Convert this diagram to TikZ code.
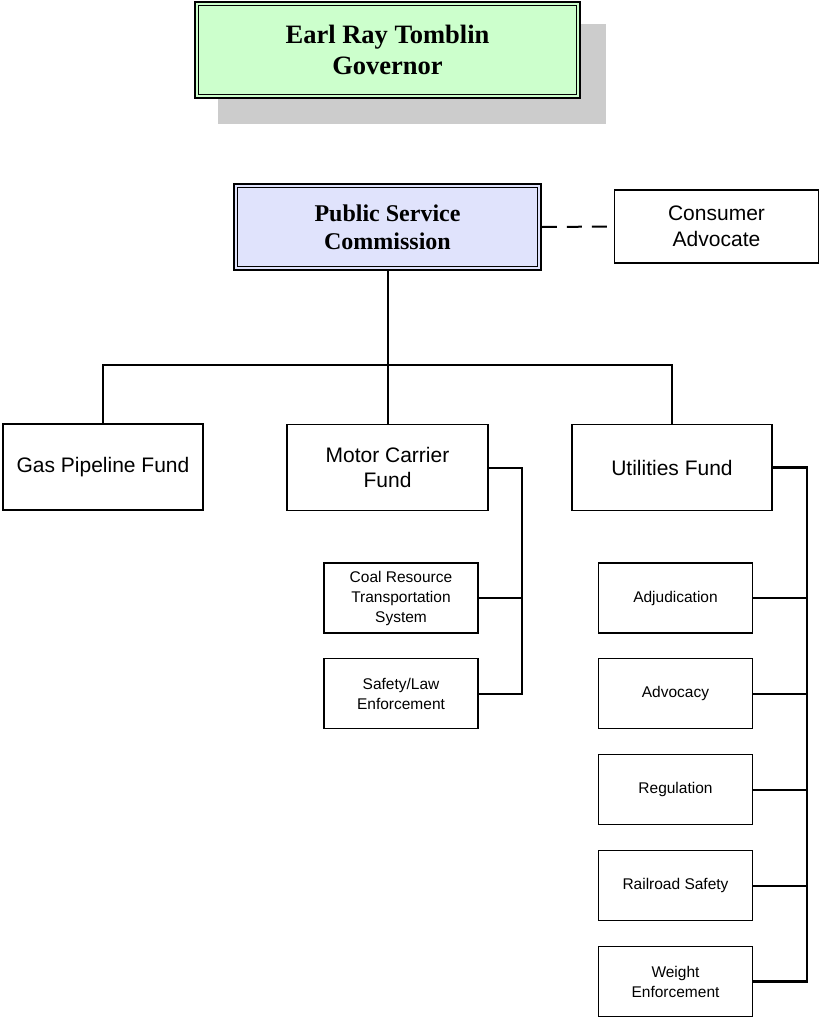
\documentclass[tikz,border=0pt]{standalone}
\usepackage{fontspec}
\setmainfont{Liberation Serif}
\newfontfamily\arialf{Liberation Sans}
\usetikzlibrary{calc,backgrounds}
\definecolor{govgreen}{RGB}{204,255,204}
\definecolor{pscblue}{RGB}{224,227,252}
\definecolor{shadowgray}{RGB}{204,204,204}
\tikzset{
  x=1pt, y=-1pt,
  topbox/.style={draw=black, line width=1.8pt, align=center, inner sep=0pt,
    font=\bfseries\fontsize{25}{30.5}\selectfont},
  fundbox/.style={draw=black, line width=1.6pt, fill=white, align=center, inner sep=0pt,
    minimum width=200pt, minimum height=86pt, font=\arialf\fontsize{21}{25.5}\selectfont},
  smallbox/.style={draw=black, line width=1.6pt, fill=white, align=center, inner sep=0pt,
    minimum width=154pt, minimum height=70pt, font=\arialf\fontsize{15.5}{20}\selectfont},
  link/.style={draw=black, line width=2pt},
  thicklink/.style={draw=black, line width=2.6pt},
  innerline/.style={draw=black, line width=1pt}
}
\begin{document}
\begin{tikzpicture}
\useasboundingbox (0,0) rectangle (822,1020);

% Governor
\node[topbox, fill=govgreen, minimum width=385pt, minimum height=96pt,
  font=\bfseries\fontsize{26.5}{31}\selectfont] (gov) at (387.5,50)
  {Earl Ray Tomblin\\Governor};
\begin{scope}[on background layer]
\fill[shadowgray] ($(gov.north west)+(24,23)$) rectangle ($(gov.south east)+(25,25)$);
\end{scope}
\draw[innerline] ($(gov.north west)+(4,4)$) rectangle ($(gov.south east)+(-4,-4)$);

% Public Service Commission
\node[topbox, fill=pscblue, minimum width=307pt, minimum height=86pt,
  font=\bfseries\fontsize{24}{28}\selectfont] (psc) at (387.5,227)
  {Public Service\\Commission};
\draw[innerline] ($(psc.north west)+(4,4)$) rectangle ($(psc.south east)+(-4,-4)$);

% Consumer Advocate
\node[fundbox, minimum width=204pt, minimum height=73pt,
  font=\arialf\fontsize{21}{26}\selectfont] (ca) at (716.5,226.5) {Consumer\\Advocate};
\draw[link, dash pattern=on 15pt off 10pt] (psc.east) -- (ca.west);

% Funds
\node[fundbox] (gas) at (103,467) {Gas Pipeline Fund};
\node[fundbox, minimum width=201pt] (motor) at (387.5,467.5) {Motor Carrier\\Fund};
\node[fundbox] (util) at (672,467.5) {Utilities Fund};

\coordinate (bus) at (387.5,365);
\draw[link] (psc.south) -- (motor.north);
\draw[link] (gas.north) |- (bus) -| (util.north);

% Motor carrier units
\node[smallbox] (coal) at (401,598) {Coal Resource\\Transportation\\System};
\node[smallbox] (safety) at (401,693.5) {Safety/Law\\Enforcement};
\coordinate (mspine) at (522,467.5);
\draw[link] (motor.east) -- (mspine) |- (safety.east);
\draw[link] (coal.east) -- (coal.east -| mspine);

% Utilities units
\node[smallbox] (adj) at (675.5,598) {Adjudication};
\node[smallbox] (adv) at (675.5,693.5) {Advocacy};
\node[smallbox] (reg) at (675.5,789.5) {Regulation};
\node[smallbox] (rail) at (675.5,885.5) {Railroad Safety};
\node[smallbox] (weight) at (675.5,981.5) {Weight\\Enforcement};
\coordinate (uspine) at (807,467.5);
\draw[thicklink] (util.east) -- (uspine) |- (weight.east);
\draw[link] (adj.east) -- (adj.east -| uspine);
\draw[link] (adv.east) -- (adv.east -| uspine);
\draw[link] (reg.east) -- (reg.east -| uspine);
\draw[link] (rail.east) -- (rail.east -| uspine);
\end{tikzpicture}
\end{document}
